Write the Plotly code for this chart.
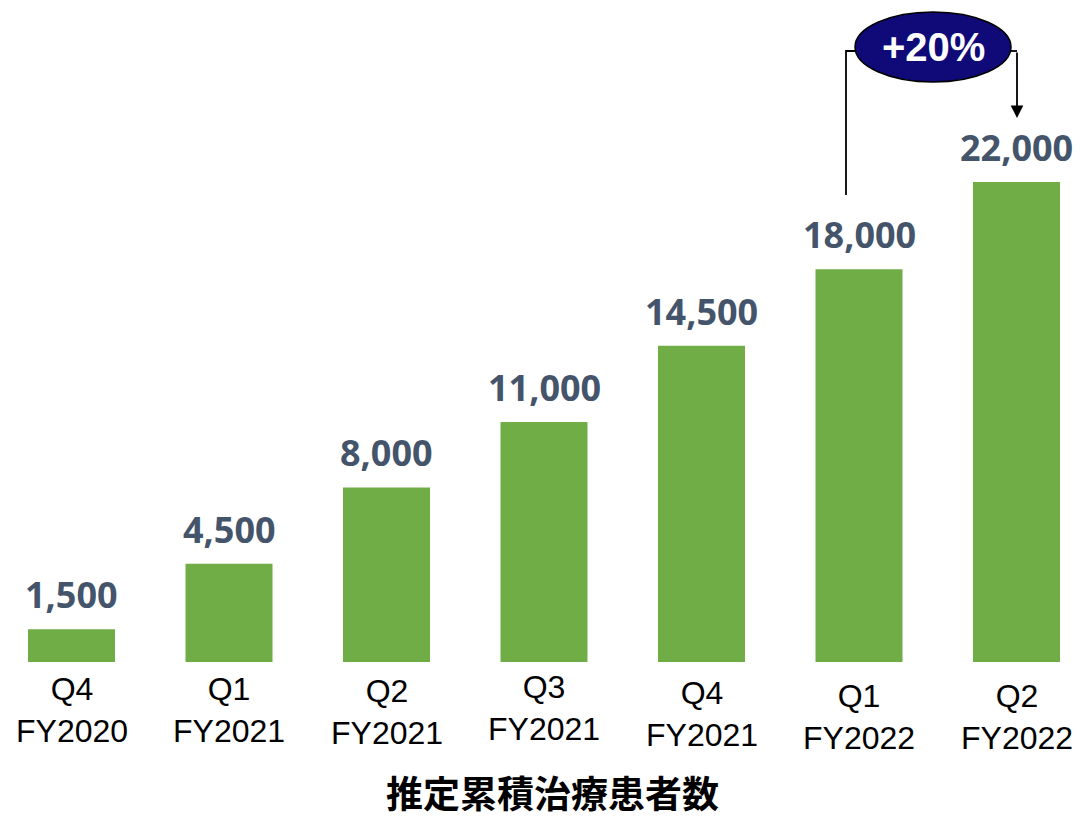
import plotly.graph_objects as go

quarters = ["Q4", "Q1", "Q2", "Q3", "Q4", "Q1", "Q2"]
fiscal_years = ["FY2020", "FY2021", "FY2021", "FY2021", "FY2021", "FY2022", "FY2022"]
patients = [1500, 4500, 8000, 11000, 14500, 18000, 22000]
growth_label = "+20%"
x_title = "推定累積治療患者数"

W, H = 1080, 822
PLOT_H = 662  # plot area height in px (baseline)

def px(x):
    return x / W

def py(y):
    return (PLOT_H - y) / PLOT_H

idx = list(range(len(patients)))
step = 157.5
fig = go.Figure()
fig.add_trace(go.Bar(
    x=idx, y=patients, width=87 / step,
    marker=dict(color="#70AD47", line=dict(width=0)),
    hoverinfo="skip",
))

annotations = []
for i, v in zip(idx, patients):
    annotations.append(dict(
        x=i, y=v, xref="x", yref="y", text=f"{v:,}", showarrow=False,
        yanchor="bottom", yshift=8,
        font=dict(family="Open Sans", size=36, color="#44546A", weight="bold"),
    ))

label_offsets = [0, 0, 2, -2, 4, 7, 7]
for i, (q, fy) in enumerate(zip(quarters, fiscal_years)):
    annotations.append(dict(
        x=i, y=0, xref="x", yref="paper", text=f"{q}<br>{fy}", showarrow=False,
        yanchor="top", yshift=-7 - label_offsets[i],
        font=dict(family="Liberation Sans", size=32, color="#000000"),
    ))

annotations.append(dict(
    x=px(552), y=py(821), xref="paper", yref="paper", text=x_title,
    showarrow=False, xanchor="center", yanchor="bottom",
    font=dict(family="Noto Sans CJK JP", size=37, color="#000000", weight="bold"),
))

annotations.append(dict(
    x=px(933), y=py(47), xref="paper", yref="paper", text=growth_label,
    showarrow=False, xanchor="center", yanchor="middle",
    font=dict(family="Liberation Sans", size=40, color="#FFFFFF", weight="bold"),
))

# arrow down to 22,000
annotations.append(dict(
    x=px(1017), y=py(118), xref="paper", yref="paper", text="",
    showarrow=True, ax=0, ay=-67, axref="pixel", ayref="pixel",
    arrowhead=2, arrowsize=1.4, arrowwidth=1.8, arrowcolor="#000000", standoff=0,
))

shapes = [
    dict(type="path", xref="paper", yref="paper",
         path=f"M {px(846)},{py(195)} L {px(846)},{py(51)} L {px(856)},{py(51)}",
         line=dict(color="#000000", width=1.8)),
    dict(type="line", xref="paper", yref="paper",
         x0=px(1010), y0=py(51), x1=px(1017), y1=py(51),
         line=dict(color="#000000", width=1.8)),
    dict(type="circle", xref="paper", yref="paper",
         x0=px(855), x1=px(1011), y0=py(82), y1=py(12),
         fillcolor="#0F0A78", line=dict(color="#000000", width=1.5)),
]

fig.update_layout(
    width=W, height=H,
    margin=dict(l=0, r=0, t=0, b=H - PLOT_H, pad=0),
    paper_bgcolor="#FFFFFF", plot_bgcolor="#FFFFFF",
    showlegend=False,
    xaxis=dict(range=[-71.5 / step, 6 + (W - 1016.5) / step], showticklabels=False,
               showgrid=False, zeroline=False, showline=False, fixedrange=True),
    yaxis=dict(range=[0, PLOT_H / (480 / 22000)], visible=False, showgrid=False,
               zeroline=False, fixedrange=True),
    annotations=annotations,
    shapes=shapes,
)

fig.write_html("out.html", config={"displayModeBar": False})
